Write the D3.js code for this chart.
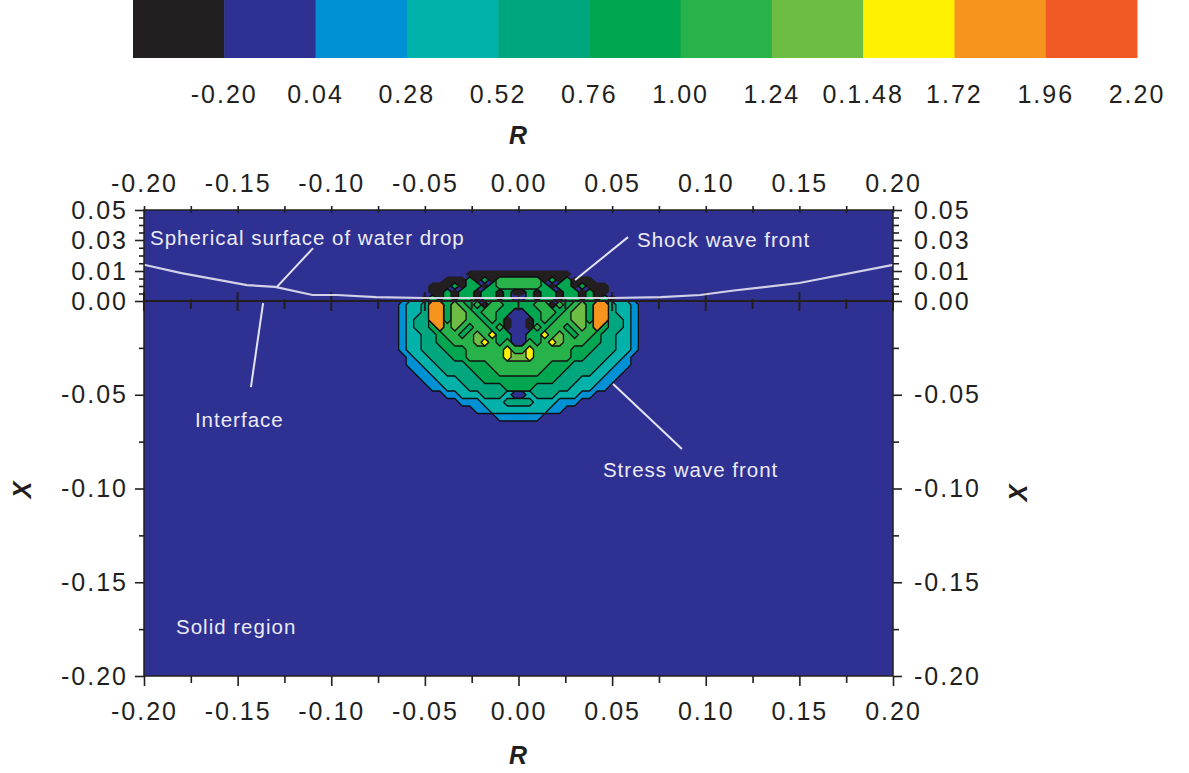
<!DOCTYPE html>
<html>
<head>
<meta charset="utf-8">
<script src="https://cdn.jsdelivr.net/npm/d3@7"></script>
<style>
  body { margin: 0; background: #fff; }
  svg text { font-family: "Liberation Sans", Arial, sans-serif; }
</style>
</head>
<body>
<div id="chart-area"></div>
<script>
// colour levels of the stress ratio (lowest first)
let levelColors = ["#231f20", "#2e3192", "#0090d4", "#00b2a9", "#00a77e", "#00a650",
                   "#27b24a", "#6dbd45", "#fff200", "#f7941d", "#f15a24"]
let levelBounds = [-0.44, -0.20, 0.04, 0.28, 0.52, 0.76, 1.00, 1.24, 1.48, 1.72, 1.96, 2.20]
let colorbarLabels = ["-0.20", "0.04", "0.28", "0.52", "0.76", "1.00", "1.24", "0.1.48", "1.72", "1.96", "2.20"]

// axis ticks
let rTicks = [-0.20, -0.15, -0.10, -0.05, 0.00, 0.05, 0.10, 0.15, 0.20]
let rMinorTicks = [-0.175, -0.125, -0.075, -0.025, 0.025, 0.075, 0.125, 0.175]
let xTicks = [0.05, 0.03, 0.01, 0.00, -0.05, -0.10, -0.15, -0.20]
let xMinorTicks = [0.045, 0.04, 0.035, 0.025, 0.02, 0.015, 0.0075, 0.005, 0.0025,
                   -0.025, -0.075, -0.125, -0.175]

// contour field: one char per cell = colour level index
let gridRLeft = -0.072, gridRRight = 0.072
let gridRowEdges = [0.012, 0.010, 0.008, 0.006, 0.004, 0.002, 0.000,
  -0.004, -0.008, -0.012, -0.016, -0.020, -0.024, -0.028, -0.032, -0.036,
  -0.040, -0.044, -0.048, -0.052, -0.056, -0.060, -0.064, -0.068]
let gridLevels = [
  "111111111111111111111111111111111111",
  "111111111110000000000000011111111111",
  "111111110005050666666050500011111111",
  "111111000505505666666505505000111111",
  "111111005055055050050550550500111111",
  "111110505055055051150550550505011111",
  "112334995765606655556606567599433211",
  "112334995776566551155665677599433211",
  "112344995776656501105656677599443211",
  "112344596765665601106566567695443211",
  "112334456656768551155867656654433211",
  "112334455666786561165687666554433211",
  "112334445556666686686666655544433211",
  "111233444556666687786666655444332111",
  "111223344445556666666655544443322111",
  "111122334444555666666555444433221111",
  "111112233344455555555554443332211111",
  "111111223334444455554444433322111111",
  "111111112233344431134443332211111111",
  "111111111122233344443332221111111111",
  "111111111111223333333322111111111111",
  "111111111111111222222111111111111111",
  "111111111111111111111111111111111111"
]

// spherical surface of the water drop
let surfaceR = [-0.200, -0.180, -0.145, -0.130, -0.110, -0.097, -0.076, -0.050,
                0.050, 0.076, 0.097, 0.115, 0.150, 0.200]
let surfaceX = [0.014, 0.0093, 0.0053, 0.0047, 0.002, 0.002, 0.0013, 0.001,
                0.001, 0.0013, 0.002, 0.0035, 0.006, 0.014]

let notes = [
  {label: "Spherical surface of water drop", r: -0.1968, x: 0.0268},
  {label: "Shock wave front", r: 0.0633, x: 0.0255},
  {label: "Interface", r: -0.1728, x: -0.0672},
  {label: "Stress wave front", r: 0.0451, x: -0.0939},
  {label: "Solid region", r: -0.1829, x: -0.1776}
]
let leaders = [
  {r1: -0.1097, x1: 0.0248, r2: -0.129, x2: 0.0047},
  {r1: 0.0585, x1: 0.0319, r2: 0.0302, x2: 0.007},
  {r1: -0.1364, x1: -0.0011, r2: -0.1429, x2: -0.0459},
  {r1: 0.0505, x1: -0.0443, r2: 0.0873, x2: -0.0789}
]

let margin = {top: 210, left: 144}
let plotWidth = 749
let plotHeight = 466
let ink = "#231f20"

let svg = d3.select("#chart-area").append("svg")
  .attr("width", 1189)
  .attr("height", 773)

// ---- colour bar ----
let band = d3.scaleBand()
  .domain(d3.range(levelColors.length))
  .range([133, 1137])

svg.append("g").selectAll("rect")
  .data(levelColors)
  .enter().append("rect")
    .attr("x", (c, i) => band(i))
    .attr("y", 0)
    .attr("width", band.bandwidth() + 0.5)
    .attr("height", 58)
    .attr("fill", c => c)

svg.append("g").selectAll("text")
  .data(colorbarLabels)
  .enter().append("text")
    .attr("x", (t, i) => band(i) + band.bandwidth())
    .attr("y", 103)
    .attr("text-anchor", "middle")
    .attr("font-size", "25px")
    .attr("letter-spacing", "2px")
    .attr("fill", ink)
    .text(t => t)

svg.append("text")
  .attr("x", 518)
  .attr("y", 144)
  .attr("text-anchor", "middle")
  .attr("font-size", "25px")
  .attr("font-weight", "bold")
  .attr("font-style", "italic")
  .attr("fill", ink)
  .text("R")

// ---- main plot ----
let group = svg.append("g")
  .attr("transform", "translate(" + margin.left + ", " + margin.top + ")")

let x = d3.scaleLinear().domain([-0.2, 0.2]).range([0, plotWidth])
// the upper part of the X axis is labelled unevenly in the original
let y = d3.scaleLinear()
  .domain([-0.20, 0.00, 0.01, 0.03, 0.05])
  .range([plotHeight, 91, 61, 30, 0])

group.append("rect")
  .attr("width", plotWidth)
  .attr("height", plotHeight)
  .attr("fill", "#2e3192")

// contour field
let nCols = gridLevels[0].length
let nRows = gridLevels.length
let levelMid = levelBounds.slice(0, -1).map(b => b + 0.12)
let values = []
gridLevels.forEach(row => {
  row.split("").forEach(c => values.push(levelMid[parseInt(c, 11)]))
})

let colR = d3.scaleLinear().domain([0, nCols]).range([gridRLeft, gridRRight])
let rowX = d3.scaleLinear().domain(d3.range(nRows + 1)).range(gridRowEdges)
let gridPath = d3.geoPath(d3.geoTransform({
  point: function(gx, gy) {
    this.stream.point(x(colR(gx)), y(rowX(gy)))
  }
}))

let blackShapes = d3.contours().size([nCols, nRows]).smooth(false)
  .thresholds([0.20])(values.map(v => -v))
group.append("g").selectAll("path")
  .data(blackShapes)
  .enter().append("path")
    .attr("d", gridPath)
    .attr("fill", levelColors[0])
    .attr("stroke", levelColors[0])
    .attr("stroke-width", 1)

let bandThresholds = levelBounds.slice(2, 11)
let bandShapes = d3.contours().size([nCols, nRows]).smooth(false)
  .thresholds(bandThresholds)(values)
group.append("g").selectAll("path")
  .data(bandShapes)
  .enter().append("path")
    .attr("d", gridPath)
    .attr("fill", (s, i) => levelColors[i + 2])
    .attr("stroke", "#111")
    .attr("stroke-width", 1.3)
    .attr("stroke-linejoin", "round")

// interface line at X = 0 with its ticks
group.append("line")
  .attr("x1", 0).attr("x2", plotWidth)
  .attr("y1", y(0)).attr("y2", y(0))
  .attr("stroke", ink)
  .attr("stroke-width", 2)
group.append("g").selectAll("line")
  .data(rTicks)
  .enter().append("line")
    .attr("x1", r => x(r)).attr("x2", r => x(r))
    .attr("y1", y(0) - 9).attr("y2", y(0) + 10)
    .attr("stroke", ink).attr("stroke-width", 2)
group.append("g").selectAll("line")
  .data(rMinorTicks)
  .enter().append("line")
    .attr("x1", r => x(r)).attr("x2", r => x(r))
    .attr("y1", y(0) - 2).attr("y2", y(0) + 8)
    .attr("stroke", ink).attr("stroke-width", 2)

// water drop surface
let surfaceLine = d3.line()
  .x(i => x(surfaceR[i]))
  .y(i => y(surfaceX[i]))
group.append("path")
  .attr("d", surfaceLine(d3.range(surfaceR.length)))
  .attr("fill", "none")
  .attr("stroke", "#e4e3f2")
  .attr("stroke-width", 2.2)
  .attr("opacity", 0.9)

// annotations
group.append("g").selectAll("line")
  .data(leaders)
  .enter().append("line")
    .attr("x1", d => x(d.r1)).attr("y1", d => y(d.x1))
    .attr("x2", d => x(d.r2)).attr("y2", d => y(d.x2))
    .attr("stroke", "#e4e3f2")
    .attr("stroke-width", 2)

group.append("g").selectAll("text")
  .data(notes)
  .enter().append("text")
    .attr("x", d => x(d.r))
    .attr("y", d => y(d.x))
    .attr("font-size", "20.5px")
    .attr("letter-spacing", "1px")
    .attr("fill", "#ecebf7")
    .text(d => d.label)

group.append("rect")
  .attr("width", plotWidth)
  .attr("height", plotHeight)
  .attr("fill", "none")
  .attr("stroke", ink)
  .attr("stroke-width", 1.5)

// axes
let fmt = v => v.toFixed(2)

function styleAxis(g) {
  g.select(".domain").remove()
  g.attr("font-family", "Liberation Sans, Arial, sans-serif").attr("font-size", 25)
  g.selectAll(".tick line").attr("stroke", ink).attr("stroke-width", 1.6)
  g.selectAll(".tick text").attr("fill", ink).attr("letter-spacing", "2px")
}

group.append("g")
  .attr("transform", "translate(0, " + plotHeight + ")")
  .call(d3.axisBottom(x).tickValues(rTicks).tickFormat(fmt).tickSize(10).tickPadding(16))
  .call(styleAxis)
group.append("g")
  .attr("transform", "translate(0, " + plotHeight + ")")
  .call(d3.axisBottom(x).tickValues(rMinorTicks).tickFormat("").tickSize(7))
  .call(styleAxis)

group.append("g")
  .call(d3.axisTop(x).tickValues(rTicks).tickFormat(fmt).tickSize(4).tickPadding(14))
  .call(styleAxis)
  .call(g => g.selectAll(".tick line").attr("y1", 3))
group.append("g")
  .call(d3.axisTop(x).tickValues(rMinorTicks).tickFormat("").tickSize(4))
  .call(styleAxis)
  .call(g => g.selectAll(".tick line").attr("y1", 3))

group.append("g")
  .call(d3.axisLeft(y).tickValues(xTicks).tickFormat(fmt).tickSize(9).tickPadding(7))
  .call(styleAxis)
group.append("g")
  .call(d3.axisLeft(y).tickValues(xMinorTicks).tickFormat("").tickSize(5))
  .call(styleAxis)

group.append("g")
  .attr("transform", "translate(" + plotWidth + ", 0)")
  .call(d3.axisRight(y).tickValues(xTicks).tickFormat(fmt).tickSize(9).tickPadding(12))
  .call(styleAxis)
group.append("g")
  .attr("transform", "translate(" + plotWidth + ", 0)")
  .call(d3.axisRight(y).tickValues(xMinorTicks).tickFormat("").tickSize(6))
  .call(styleAxis)

// axis titles
svg.append("text")
  .attr("x", 518)
  .attr("y", 764)
  .attr("text-anchor", "middle")
  .attr("font-size", "25px")
  .attr("font-weight", "bold")
  .attr("font-style", "italic")
  .attr("fill", ink)
  .text("R")

svg.selectAll(".x-title")
  .data([{cx: 22, cy: 490}, {cx: 1018, cy: 493}])
  .enter().append("text")
    .attr("class", "x-title")
    .attr("transform", d => "translate(" + d.cx + ", " + d.cy + ") rotate(-90)")
    .attr("text-anchor", "middle")
    .attr("dy", "0.35em")
    .attr("font-size", "25px")
    .attr("font-weight", "bold")
    .attr("font-style", "italic")
    .attr("fill", ink)
    .text("X")
</script>
</body>
</html>
